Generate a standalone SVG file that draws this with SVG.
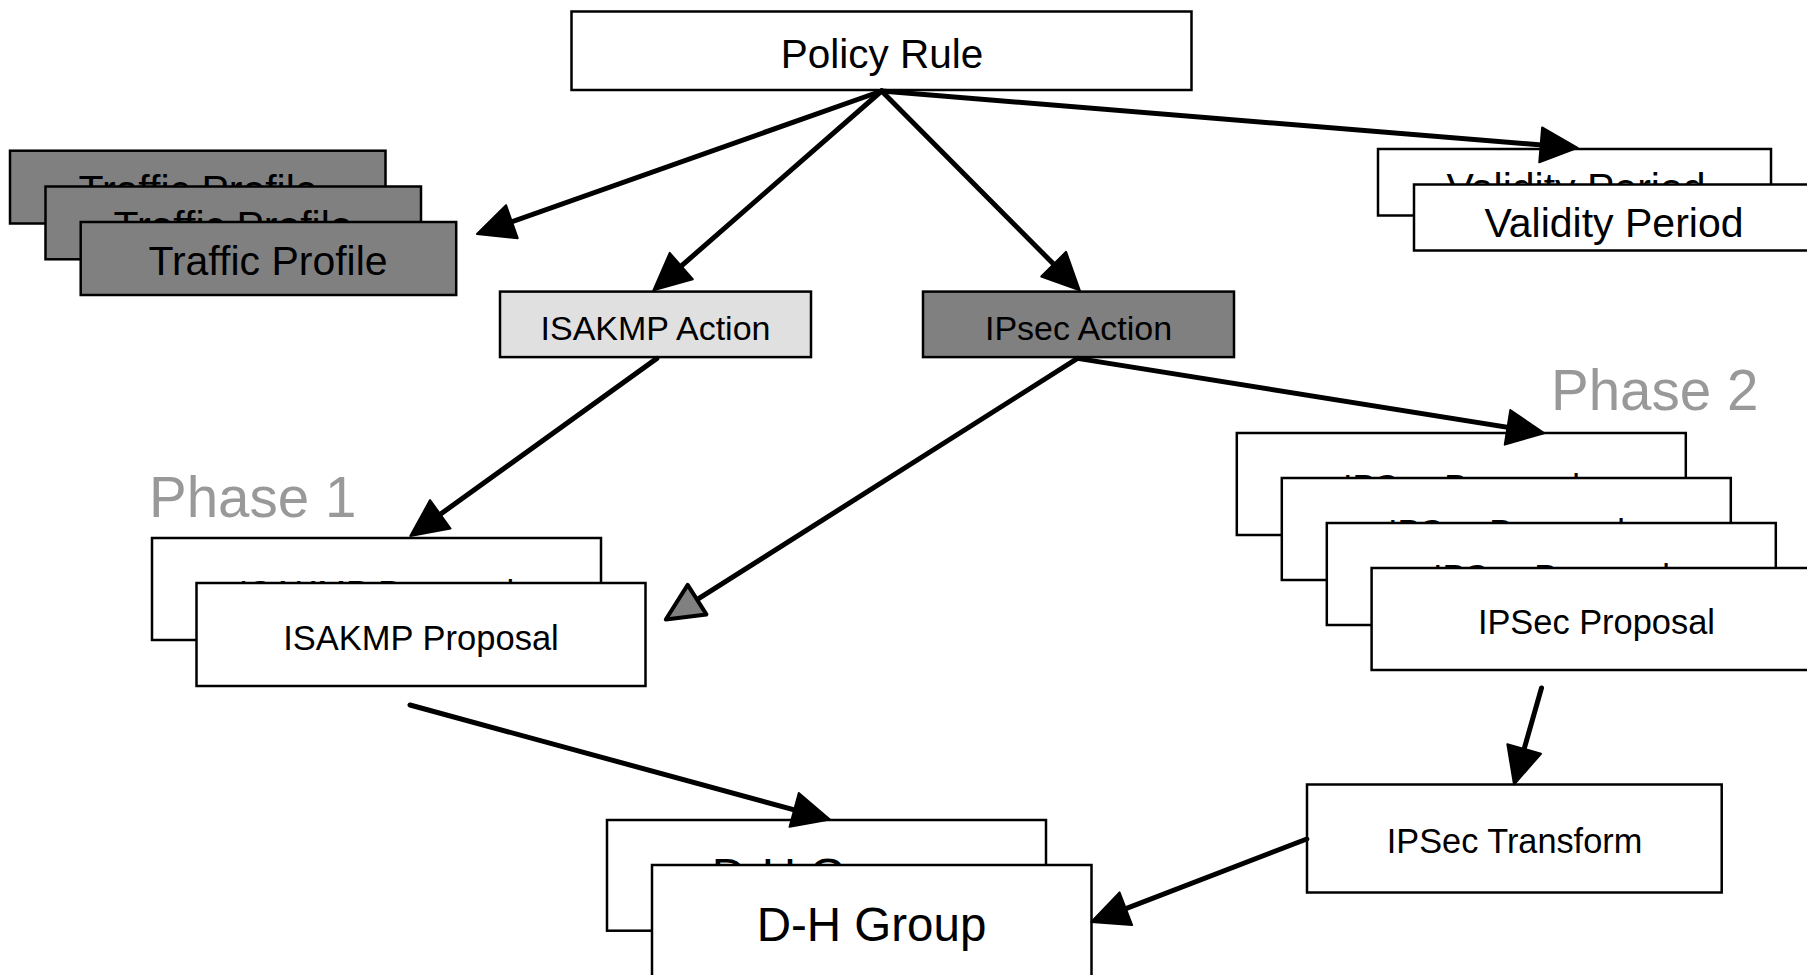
<svg xmlns="http://www.w3.org/2000/svg" width="1807" height="975" viewBox="0 0 1807 975">
  <style>
    .box { stroke: #000; stroke-width: 2.5; }
    .white { fill: #fff; }
    .dark { fill: #808080; }
    .light { fill: #e0e0e0; }
    .lbl { font-family: "Liberation Sans", Arial, sans-serif; fill: #000; text-anchor: middle; }
    .phase { font-family: "Liberation Sans", Arial, sans-serif; fill: #999; font-size: 56.5px; }
    .conn { stroke: #000; stroke-width: 5; fill: none; stroke-linecap: round; }
  </style>
  <defs>
    <marker id="head" markerUnits="userSpaceOnUse" viewBox="-3 -3 43 41" markerWidth="43" markerHeight="41" refX="25" refY="17.5" orient="auto">
      <path d="M0,0 L37,17.5 L0,35 Z" fill="#000" stroke="#000" stroke-width="2" stroke-linejoin="round"/>
    </marker>
    <marker id="headGray" markerUnits="userSpaceOnUse" viewBox="-4 -4 45 43" markerWidth="45" markerHeight="43" refX="1" refY="17.5" orient="auto">
      <path d="M0,0 L37,17.5 L0,35 Z" fill="#808080" stroke="#000" stroke-width="4" stroke-linejoin="round"/>
    </marker>
  </defs>

  <rect width="1807" height="975" fill="#fff"/>

  <!-- top-level rule -->
  <g id="policy-rule">
    <rect class="box white" x="571.5" y="11.5" width="620" height="78.5"/>
    <text class="lbl" x="882" y="68" font-size="40.5">Policy Rule</text>
  </g>

  <!-- traffic profile stack -->
  <g id="traffic-profile-1">
    <rect class="box dark" x="10" y="150.7" width="375.5" height="72.8"/>
    <text class="lbl" x="198" y="204" font-size="41">Traffic Profile</text>
  </g>
  <g id="traffic-profile-2">
    <rect class="box dark" x="45.5" y="186.5" width="375.5" height="72.8"/>
    <text class="lbl" x="233" y="240" font-size="41">Traffic Profile</text>
  </g>
  <g id="traffic-profile-3">
    <rect class="box dark" x="80.7" y="222" width="375.5" height="73"/>
    <text class="lbl" x="268" y="275" font-size="41">Traffic Profile</text>
  </g>

  <!-- validity period stack -->
  <g id="validity-period-1">
    <rect class="box white" x="1378" y="149" width="393" height="66.5"/>
    <text class="lbl" x="1576" y="201.5" font-size="41">Validity Period</text>
  </g>
  <g id="validity-period-2">
    <rect class="box white" x="1414" y="184.5" width="402" height="66"/>
    <text class="lbl" x="1614" y="237" font-size="41">Validity Period</text>
  </g>

  <!-- actions -->
  <g id="isakmp-action">
    <rect class="box light" x="500" y="291.6" width="311" height="65.5"/>
    <text class="lbl" x="655.5" y="339.5" font-size="34">ISAKMP Action</text>
  </g>
  <g id="ipsec-action">
    <rect class="box dark" x="923" y="291.6" width="311" height="65.5"/>
    <text class="lbl" x="1078.5" y="339.5" font-size="34">IPsec Action</text>
  </g>

  <!-- phase captions -->
  <text class="phase" x="149" y="517">Phase 1</text>
  <text class="phase" x="1551" y="410">Phase 2</text>

  <!-- ISAKMP proposal stack -->
  <g id="isakmp-proposal-1">
    <rect class="box white" x="152" y="538" width="449" height="102"/>
    <text class="lbl" x="376.5" y="605" font-size="34.5">ISAKMP Proposal</text>
  </g>
  <g id="isakmp-proposal-2">
    <rect class="box white" x="196.5" y="583" width="449" height="103"/>
    <text class="lbl" x="421" y="650" font-size="34.5">ISAKMP Proposal</text>
  </g>

  <!-- IPSec proposal stack -->
  <g id="ipsec-proposal-1">
    <rect class="box white" x="1236.8" y="433" width="449" height="102"/>
    <text class="lbl" x="1461.4" y="499" font-size="34.4">IPSec Proposal</text>
  </g>
  <g id="ipsec-proposal-2">
    <rect class="box white" x="1281.8" y="478" width="449" height="102"/>
    <text class="lbl" x="1506.4" y="544" font-size="34.4">IPSec Proposal</text>
  </g>
  <g id="ipsec-proposal-3">
    <rect class="box white" x="1326.8" y="523" width="449" height="102"/>
    <text class="lbl" x="1551.4" y="589" font-size="34.4">IPSec Proposal</text>
  </g>
  <g id="ipsec-proposal-4">
    <rect class="box white" x="1371.6" y="568" width="449" height="102"/>
    <text class="lbl" x="1596.4" y="634" font-size="34.4">IPSec Proposal</text>
  </g>

  <!-- transform -->
  <g id="ipsec-transform">
    <rect class="box white" x="1307" y="784.5" width="414.7" height="108"/>
    <text class="lbl" x="1514.5" y="853" font-size="34.3">IPSec Transform</text>
  </g>

  <!-- D-H group stack -->
  <g id="dh-group-1">
    <rect class="box white" x="607" y="820" width="439" height="110.7"/>
    <text class="lbl" x="826.5" y="892" font-size="47.5">D-H Group</text>
  </g>
  <g id="dh-group-2">
    <rect class="box white" x="652" y="865" width="439.5" height="115"/>
    <text class="lbl" x="871.5" y="941" font-size="47.5">D-H Group</text>
  </g>

  <!-- connectors -->
  <g id="connectors">
    <line class="conn" x1="881.6" y1="91" x2="488.3" y2="230" marker-end="url(#head)"/>
    <line class="conn" x1="881.6" y1="91" x2="662.4" y2="282.5" marker-end="url(#head)"/>
    <line class="conn" x1="881.6" y1="91" x2="1071.3" y2="281.9" marker-end="url(#head)"/>
    <line class="conn" x1="881.6" y1="91" x2="1565.6" y2="146.9" marker-end="url(#head)"/>
    <line class="conn" x1="656.9" y1="358.4" x2="420" y2="528.9" marker-end="url(#head)"/>
    <line class="conn" x1="1077.5" y1="358.4" x2="696.2" y2="600.2" marker-end="url(#headGray)"/>
    <line class="conn" x1="1077.5" y1="358.4" x2="1532.2" y2="431.3" marker-end="url(#head)"/>
    <line class="conn" x1="410" y1="705" x2="818.3" y2="816.4" marker-end="url(#head)"/>
    <line class="conn" x1="1541.5" y1="688" x2="1517.3" y2="773" marker-end="url(#head)"/>
    <line class="conn" x1="1306.8" y1="839" x2="1102.5" y2="917.7" marker-end="url(#head)"/>
  </g>
</svg>
